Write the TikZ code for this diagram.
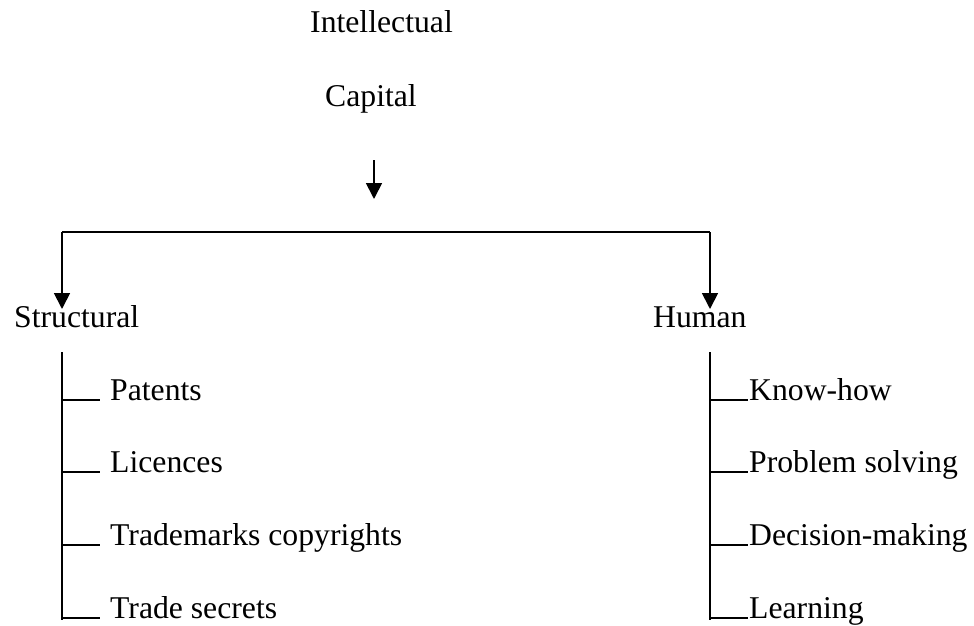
\documentclass[tikz,border=0pt]{standalone}
\usepackage{fontspec}
\setmainfont{Liberation Serif}
\usetikzlibrary{arrows.meta}
\begin{document}
\begin{tikzpicture}[x=1pt,y=-1pt,
  lbl/.style={anchor=base west,inner sep=0pt,font=\fontsize{31.7}{38}\selectfont},
  conn/.style={line width=1.8pt},
  arr/.style={conn,-{Triangle[length=16pt,width=16pt]}}]
\useasboundingbox (0,0) rectangle (974,626);
% title
\node[lbl] (intel) at (310,33) {Intellectual};
\node[lbl] (cap) at (325,106) {Capital};
\coordinate (capdown) at (374,160);
\coordinate (captip) at (374,199);
\draw[arr] (capdown) -- (captip);
% main split
\node[lbl] (struct) at (14,327) {Structural};
\node[lbl] (human) at (653,327) {Human};
\coordinate (sj) at (62,232);
\coordinate (hj) at (710,232);
\coordinate (stip) at (62,309);
\coordinate (htip) at (710,309);
\draw[conn] (sj) -- (hj);
\draw[arr] (sj) -- (stip);
\draw[arr] (hj) -- (htip);
% structural branches
\coordinate (stop) at (62,352);
\coordinate (sbot) at (62,620);
\draw[conn] (stop) -- (sbot);
\foreach \y/\n/\t in {400/pat/Patents,472/lic/Licences,545/tm/Trademarks copyrights,618/ts/Trade secrets}{
  \node[lbl] (\n) at (110,\y) {\t};
  \draw[conn] (62,\y) -- (100,\y);
}
% human branches
\coordinate (htop) at (710,352);
\coordinate (hbot) at (710,620);
\draw[conn] (htop) -- (hbot);
\foreach \y/\n/\t in {400/kh/Know-how,472/ps/Problem solving,545/dm/Decision-making,618/le/Learning}{
  \node[lbl] (\n) at (749,\y) {\t};
  \draw[conn] (710,\y) -- (748,\y);
}
\end{tikzpicture}
\end{document}
